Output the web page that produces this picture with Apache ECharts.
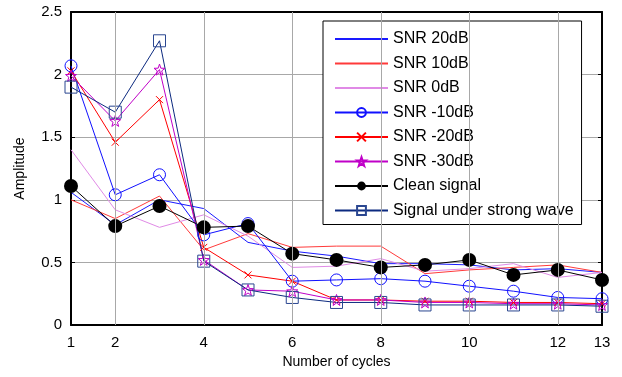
<!DOCTYPE html>
<html><head><meta charset="utf-8">
<script src="https://cdn.jsdelivr.net/npm/echarts@6/dist/echarts.min.js"></script>
<style>html,body{margin:0;padding:0;background:#fff}#c{width:622px;height:377px}</style>
</head><body><div id="c"></div>
<script>
const cycles = [1,2,3,4,5,6,7,8,9,10,11,12,13];
const xTickLabels = [1,2,4,6,8,10,12,13];
const xGridValues = [2,4,6,8,10,12];
const yTicks = [0,0.5,1,1.5,2,2.5];
const snr20  = [1.06,0.80,1.00,0.93,0.66,0.59,0.55,0.49,0.49,0.48,0.44,0.45,0.42];
const snr10  = [1.00,0.85,1.03,0.60,0.73,0.62,0.63,0.63,0.41,0.44,0.46,0.48,0.42];
const snr0   = [1.40,0.92,0.78,0.88,0.71,0.46,0.47,0.53,0.43,0.45,0.49,0.38,0.42];
const snrm10 = [2.07,1.04,1.20,0.72,0.81,0.35,0.36,0.37,0.35,0.31,0.27,0.22,0.21];
const snrm20 = [2.03,1.46,1.80,0.62,0.40,0.35,0.20,0.20,0.19,0.19,0.18,0.18,0.17];
const snrm30 = [1.99,1.63,2.04,0.52,0.28,0.27,0.20,0.20,0.18,0.18,0.17,0.17,0.16];
const clean  = [1.11,0.79,0.95,0.78,0.79,0.57,0.52,0.46,0.48,0.52,0.40,0.44,0.36];
const strong = [1.90,1.70,2.27,0.51,0.28,0.22,0.18,0.18,0.16,0.16,0.16,0.16,0.15];
const names = ['SNR 20dB','SNR 10dB','SNR 0dB','SNR -10dB','SNR -20dB','SNR -30dB','Clean signal','Signal under strong wave'];

const pair = arr => cycles.map((c,i)=>[c,arr[i]]);
const FONT = 'Liberation Sans';
const STAR = 'path://M10,0L12.35,6.76L19.51,6.91L13.8,11.24L15.88,18.09L10,14L4.12,18.09L6.2,11.24L0.49,6.91L7.65,6.76Z';
const XMARK = 'path://M0,0L10,10M10,0L0,10';

function ser(name, data, color, opts) {
  return Object.assign({
    name, type:'line', data: pair(data), symbol:'none', z: 3,
    lineStyle:{color, width:1}, itemStyle:{color}, animation:false
  }, opts || {});
}
const hollow = (c)=>({color:'rgba(255,255,255,0)', borderColor:c, borderWidth:1});
const noMark = {color:'rgba(0,0,0,0)', borderWidth:0, opacity:0};

const chart = echarts.init(document.getElementById('c'), null, {renderer:'canvas'});
chart.setOption({
  animation:false,
  backgroundColor:'#fff',
  grid:{left:71, right:20, top:12, bottom:52, containLabel:false},
  xAxis:[{
    type:'value', min:1, max:13, position:'bottom',
    name:'Number of cycles', nameLocation:'middle', nameGap:30,
    nameTextStyle:{fontFamily:FONT, fontSize:14, color:'#000'},
    axisLine:{show:true, onZero:false, lineStyle:{color:'#000', width:2}},
    axisTick:{show:true, inside:true, length:4, customValues:xTickLabels, lineStyle:{color:'#000'}},
    axisLabel:{fontFamily:FONT, fontSize:15, color:'#000', margin:10, customValues:xTickLabels},
    splitLine:{show:false}
  },{
    type:'value', min:1, max:13, position:'top',
    axisLine:{show:true, onZero:false, lineStyle:{color:'#000', width:2}},
    axisTick:{show:true, inside:true, length:4, customValues:xTickLabels, lineStyle:{color:'#000'}},
    axisLabel:{show:false}, splitLine:{show:false}
  }],
  yAxis:[{
    type:'value', min:0, max:2.5, interval:0.5, position:'left',
    name:'Amplitude', nameLocation:'middle', nameGap:44,
    nameTextStyle:{fontFamily:FONT, fontSize:14, color:'#000'},
    axisLine:{show:true, onZero:false, lineStyle:{color:'#000', width:2}},
    axisTick:{show:true, inside:true, length:4, lineStyle:{color:'#000'}},
    axisLabel:{fontFamily:FONT, fontSize:15, color:'#000', margin:9},
    splitLine:{show:true, lineStyle:{color:'#a8a8a8', width:1}}
  },{
    type:'value', min:0, max:2.5, interval:0.5, position:'right',
    axisLine:{show:true, onZero:false, lineStyle:{color:'#000', width:2}},
    axisTick:{show:true, inside:true, length:4, lineStyle:{color:'#000'}},
    axisLabel:{show:false}, splitLine:{show:false}
  }],
  legend:{
    data: names.map((n,i)=> i<3 ? {name:n, itemStyle:noMark} : {name:n}),
    orient:'vertical', left:323, top:21,
    itemWidth:53, itemHeight:11, itemGap:8.5,
    padding:[10,8,6,11],
    backgroundColor:'#fff', borderColor:'#000', borderWidth:1,
    textStyle:{fontFamily:FONT, fontSize:16, color:'#000'},
    selectedMode:false
  },
  series:[
    {type:'line', name:'grid', data:[], z:1, silent:true,
     markLine:{silent:true, symbol:'none', label:{show:false},
       lineStyle:{color:'#a8a8a8', width:1, type:'solid'},
       data: xGridValues.map(v=>({xAxis:v}))}},
    ser(names[0], snr20, '#1a1aff'),
    ser(names[1], snr10, '#ff3a3a'),
    ser(names[2], snr0, '#e08ae6'),
    ser(names[3], snrm10, '#1010ff', {symbol:'circle', symbolSize:12, itemStyle:hollow('#1010ff')}),
    ser(names[4], snrm20, '#ff0000', {symbol:XMARK, symbolSize:7, itemStyle:hollow('#ff0000')}),
    ser(names[5], snrm30, '#c000c8', {symbol:STAR, symbolSize:11, itemStyle:hollow('#c000c8')}),
    ser(names[6], clean, '#000000', {symbol:'circle', symbolSize:14, itemStyle:{color:'#000'}}),
    ser(names[7], strong, '#0c2a80', {symbol:'rect', symbolSize:12, itemStyle:hollow('#2a4690')})
  ]
});
</script></body></html>
